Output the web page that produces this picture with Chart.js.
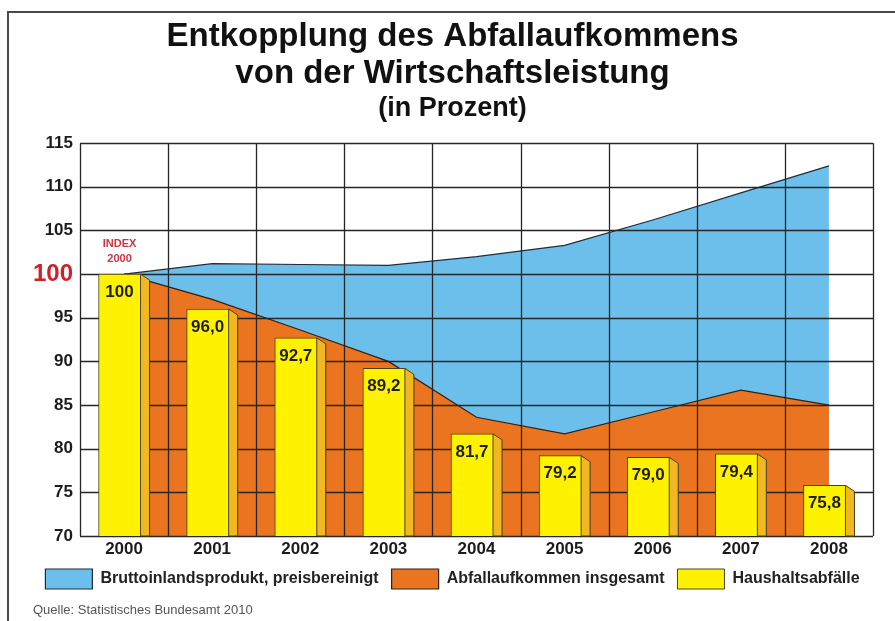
<!DOCTYPE html>
<html lang="de">
<head>
<meta charset="utf-8">
<title>Entkopplung des Abfallaufkommens</title>
<script src="https://cdn.jsdelivr.net/npm/chart.js@4"></script>
<style>
  html, body { margin: 0; padding: 0; background: #fff; }
  #wrap { position: relative; width: 895px; height: 621px; }
</style>
</head>
<body>
<div id="wrap"><canvas id="chart_entkopplung"></canvas></div>
<script>
// values (index 2000 = 100)
const years = ['2000', '2001', '2002', '2003', '2004', '2005', '2006', '2007', '2008'];
const bipPreisbereinigt = [100, 101.2, 101.1, 101.0, 102.0, 103.3, 106.2, 109.3, 112.4];
const abfallInsgesamt = [100, 97.1, 93.6, 90.0, 83.6, 81.7, 84.2, 86.7, 85.0];
const haushaltsabfaelle = [100, 96.0, 92.7, 89.2, 81.7, 79.2, 79.0, 79.4, 75.8];
const barLabels = ['100', '96,0', '92,7', '89,2', '81,7', '79,2', '79,0', '79,4', '75,8'];
const yMin = 70, yMax = 115, yStep = 5;

const FONT = '"Liberation Sans", Arial, Helvetica, sans-serif';
const SIDE = 9;     // width of the shaded bar side
const BEVEL = 6;    // drop of the side's top edge
const BAR = 2;      // index of the bar dataset
const ORANGE = 1;
const LEGEND_LIFT = 4;

Chart.defaults.font.family = FONT;

// grid has to sit on top of the two areas but under the bars
const gridOverAreas = {
  id: 'gridOverAreas',
  afterDatasetDraw(chart, args) {
    if (args.index !== ORANGE) return;
    const {ctx, chartArea: a, scales: {x, y}} = chart;
    ctx.save();
    ctx.strokeStyle = '#262626';
    ctx.lineWidth = 1.3;
    ctx.beginPath();
    y.ticks.forEach(t => {
      const py = Math.round(y.getPixelForValue(t.value)) + 0.5;
      ctx.moveTo(a.left, py);
      ctx.lineTo(a.right, py);
    });
    const step = x.getPixelForValue(1) - x.getPixelForValue(0);
    for (let i = 0; i <= years.length; i++) {
      const px = Math.round(x.getPixelForValue(i) - step / 2) + 0.5;
      ctx.moveTo(px, a.top);
      ctx.lineTo(px, a.bottom);
    }
    ctx.stroke();
    ctx.restore();
  }
};

// fake 3d: cut the corner off each bar, then paint the side face
const bar3d = {
  id: 'bar3d',
  beforeDatasetDraw(chart, args) {
    if (args.index !== BAR) return;
    const ctx = chart.ctx;
    ctx.save();
    ctx.beginPath();
    ctx.rect(0, 0, chart.width, chart.height);
    args.meta.data.forEach(el => {
      const xe = el.x + el.width / 2, xs = xe - SIDE;
      ctx.moveTo(xs, el.y - 3);
      ctx.lineTo(xe + 3, el.y - 3);
      ctx.lineTo(xe + 3, el.y + BEVEL * (SIDE + 3) / SIDE);
      ctx.lineTo(xs, el.y);
      ctx.closePath();
    });
    ctx.clip('evenodd');
  },
  afterDatasetDraw(chart, args) {
    if (args.index !== BAR) return;
    const ctx = chart.ctx;
    const bottom = chart.chartArea.bottom;
    ctx.restore();
    ctx.save();
    args.meta.data.forEach((el, i) => {
      const xe = el.x + el.width / 2, xs = xe - SIDE;
      ctx.beginPath();
      ctx.moveTo(xs, el.y);
      ctx.lineTo(xe, el.y + BEVEL);
      ctx.lineTo(xe, bottom);
      ctx.lineTo(xs, bottom);
      ctx.closePath();
      ctx.fillStyle = '#F2B824';
      ctx.fill();
      ctx.strokeStyle = '#4d4210';
      ctx.lineWidth = 1;
      ctx.stroke();

      ctx.font = 'bold 17px ' + FONT;
      ctx.fillStyle = '#1e1e1e';
      ctx.textAlign = 'center';
      ctx.textBaseline = 'middle';
      ctx.fillText(barLabels[i], el.x - SIDE / 2, el.y + 18);
    });
    // index note above the first bar
    const first = args.meta.data[0];
    ctx.font = 'bold 11px ' + FONT;
    ctx.fillStyle = '#cc3344';
    ctx.fillText('INDEX', first.x - SIDE / 2, first.y - 30);
    ctx.fillText('2000', first.x - SIDE / 2, first.y - 15);
    ctx.restore();
  }
};

const frameAndSource = {
  id: 'frameAndSource',
  afterLayout(chart) {
    // legend row sits right under the year labels
    chart.legend.top -= LEGEND_LIFT;
    chart.legend.bottom -= LEGEND_LIFT;
  },
  beforeDraw(chart) {
    const ctx = chart.ctx;
    ctx.save();
    ctx.fillStyle = 'white';
    ctx.fillRect(0, 0, chart.width, chart.height);
    ctx.strokeStyle = '#4a4a4a';
    ctx.lineWidth = 2;
    ctx.beginPath();
    ctx.moveTo(8, chart.height);
    ctx.lineTo(8, 12);
    ctx.lineTo(chart.width, 12);
    ctx.stroke();
    ctx.restore();
  },
  afterDraw(chart) {
    const ctx = chart.ctx;
    ctx.save();
    ctx.font = '13px ' + FONT;
    ctx.fillStyle = '#555';
    ctx.textAlign = 'left';
    ctx.textBaseline = 'middle';
    ctx.fillText('Quelle: Statistisches Bundesamt 2010', 33, 610);
    ctx.restore();
  }
};

const chart_entkopplung = new Chart(document.getElementById('chart_entkopplung'), {
  type: 'bar',
  data: {
    labels: years,
    datasets: [
      {
        type: 'line',
        label: 'Bruttoinlandsprodukt, preisbereinigt',
        data: bipPreisbereinigt,
        fill: 'start',
        backgroundColor: '#6CBFEA',
        borderColor: '#1f2d3a',
        borderWidth: 1.2,
        pointRadius: 0,
        tension: 0,
        order: 3
      },
      {
        type: 'line',
        label: 'Abfallaufkommen insgesamt',
        data: abfallInsgesamt,
        fill: 'start',
        backgroundColor: '#EB7420',
        borderColor: '#2e2218',
        borderWidth: 1.2,
        pointRadius: 0,
        tension: 0,
        order: 2
      },
      {
        label: 'Haushaltsabfälle',
        data: haushaltsabfaelle,
        backgroundColor: '#FFF200',
        borderColor: '#4d4210',
        borderWidth: 1,
        barThickness: 51,
        order: 1
      }
    ]
  },
  options: {
    animation: false,
    responsive: true,
    maintainAspectRatio: false,
    layout: {
      padding: {left: 32, right: 22, top: 0, bottom: 18}
    },
    plugins: {
      title: {
        display: true,
        text: ['Entkopplung des Abfallaufkommens', 'von der Wirtschaftsleistung'],
        color: '#111',
        font: {size: 33, weight: 'bold', lineHeight: 1.12},
        padding: {top: 18, bottom: 0}
      },
      subtitle: {
        display: true,
        text: '(in Prozent)',
        color: '#111',
        font: {size: 27, weight: 'bold', lineHeight: 1.12},
        padding: {top: 2, bottom: 19}
      },
      legend: {
        position: 'bottom',
        align: 'center',
        maxHeight: 55,
        labels: {
          boxWidth: 47,
          boxHeight: 20,
          padding: 13,
          color: '#222',
          font: {size: 16, weight: 'bold'},
          sort: (a, b) => a.datasetIndex - b.datasetIndex
        }
      },
      tooltip: {enabled: false}
    },
    scales: {
      x: {
        offset: true,
        grid: {display: false, drawTicks: false},
        border: {display: false},
        ticks: {
          color: '#1c1c1c',
          padding: 3,
          font: {size: 17, weight: 'bold'}
        },
        afterFit: s => { s.height = 24; }
      },
      y: {
        min: yMin,
        max: yMax,
        grid: {display: false, drawTicks: false},
        border: {display: false},
        ticks: {
          stepSize: yStep,
          padding: 7,
          color: c => c.tick.value === 100 ? '#CC2229' : '#1c1c1c',
          font: c => c.tick && c.tick.value === 100
            ? {size: 24, weight: 'bold'}
            : {size: 17, weight: 'bold'}
        },
        afterFit: s => { s.width = 48; }
      }
    }
  },
  plugins: [frameAndSource, gridOverAreas, bar3d]
});
</script>
</body>
</html>
